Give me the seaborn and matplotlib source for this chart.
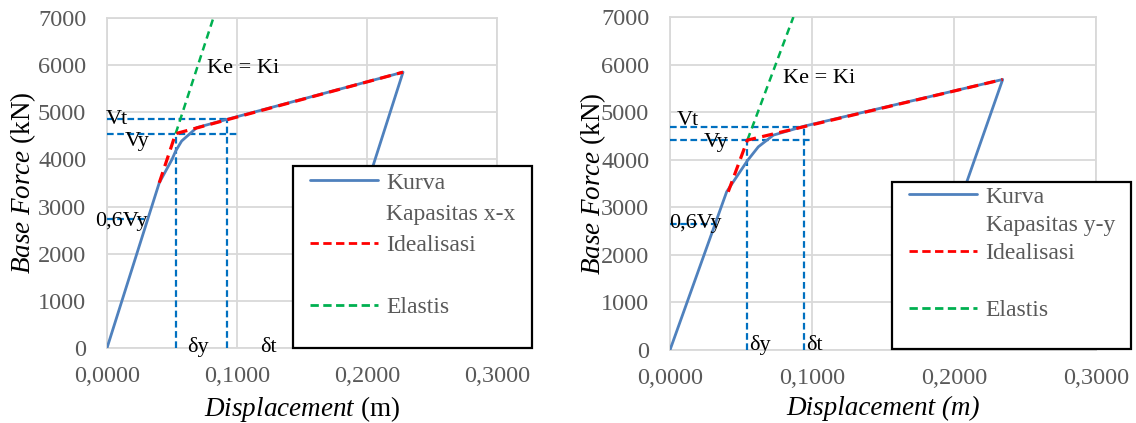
import matplotlib
matplotlib.use("Agg")
import matplotlib.pyplot as plt
import seaborn as sns
from matplotlib.lines import Line2D
from matplotlib.patches import Rectangle

# ---------------- data : direction x-x ----------------
cap_x_disp = [0.0, 0.0402, 0.0500, 0.0528, 0.0574, 0.0690, 0.0923, 0.2277, 0.1830]
cap_x_force = [0, 3504, 4000, 4177, 4390, 4674, 4850, 5851, 2000]
ideal_x_disp = [0.0402, 0.0528, 0.2277]
ideal_x_force = [3504, 4547, 5851]
elas_x_disp = [0.0528, 0.0818]
elas_x_force = [4547, 7000]
x_Vt, x_Vy = 4851, 4547
x_dy, x_dt = 0.0528, 0.0923
x_06Vy, x_06Vy_disp = 2728, 0.0313

# ---------------- data : direction y-y ----------------
cap_y_disp = [0.0, 0.0399, 0.0545, 0.0622, 0.0728, 0.0946, 0.2343, 0.1910]
cap_y_force = [0, 3326, 3980, 4271, 4517, 4706, 5687, 2000]
ideal_y_disp = [0.0410, 0.0545, 0.2343]
ideal_y_force = [3326, 4412, 5687]
elas_y_disp = [0.0545, 0.0869]
elas_y_force = [4412, 7000]
y_Vt, y_Vy = 4685, 4412
y_dy, y_dt = 0.0545, 0.0946
y_06Vy, y_06Vy_disp = 2647, 0.0329

# ---------------- ticks / labels ----------------
x_ticks = [0.0, 0.1, 0.2, 0.3]
x_tick_labels = ["0,0000", "0,1000", "0,2000", "0,3000"]
y_ticks = [0, 1000, 2000, 3000, 4000, 5000, 6000, 7000]
y_tick_labels = ["0", "1000", "2000", "3000", "4000", "5000", "6000", "7000"]
legend_labels_x = ["Kurva", "Kapasitas x-x", "Idealisasi", " ", "Elastis", " "]
legend_labels_y = ["Kurva", "Kapasitas y-y", "Idealisasi", " ", "Elastis", " "]

BLUE = "#4F81BD"
REF = "#0070C0"
RED = "#FF0000"
GREEN = "#00B050"
GRID = "#D9D9D9"
TICKC = "#595959"

sns.set_theme(style="white")
plt.rcParams['font.family'] = ['Liberation Serif', 'DejaVu Serif']
plt.rcParams['mathtext.fontset'] = 'custom'
plt.rcParams['mathtext.rm'] = 'Liberation Serif'
plt.rcParams['mathtext.it'] = 'Liberation Serif:italic'

fig = plt.figure(figsize=(11.36, 4.23), dpi=100)
axL = fig.add_axes([107/1136, 1-348/423, 390/1136, 330/423])
axR = fig.add_axes([670/1136, 1-350/423, 426/1136, 333/423])


def panel(ax, cap_d, cap_f, id_d, id_f, el_d, el_f, Vt, Vy, dy, dt, v06, d06,
          txt, xl_italic, ylab_x):
    ax.set_xlim(0, 0.3)
    ax.set_ylim(0, 7000)
    ax.set_xticks(x_ticks)
    ax.set_xticklabels(x_tick_labels)
    ax.set_yticks(y_ticks)
    ax.set_yticklabels(y_tick_labels)
    ax.tick_params(axis='both', length=0, labelsize=17.5, labelcolor=TICKC)
    ax.tick_params(axis='y', pad=15)
    ax.tick_params(axis='x', pad=13)
    ax.grid(True, color=GRID, lw=1.3)
    ax.set_axisbelow(True)
    for s in ax.spines.values():
        s.set_color(GRID)
        s.set_linewidth(1.3)

    ref_ls = (0, (3, 1.6))
    ax.plot([0, dt], [Vt, Vt], color=REF, lw=1.6, ls=ref_ls, zorder=3)
    ax.plot([0, 0.1], [Vy, Vy], color=REF, lw=1.6, ls=ref_ls, zorder=3)
    ax.plot([dy, dy], [0, Vy], color=REF, lw=1.6, ls=ref_ls, zorder=3)
    ax.plot([dt, dt], [0, Vt], color=REF, lw=1.6, ls=ref_ls, zorder=3)
    ax.plot([0, d06], [v06, v06], color=REF, lw=1.6, ls=ref_ls, zorder=3)

    sns.lineplot(x=el_d, y=el_f, ax=ax, sort=False, color=GREEN, lw=1.8,
                 linestyle=(0, (3, 2)), zorder=4)
    sns.lineplot(x=cap_d, y=cap_f, ax=ax, sort=False, color=BLUE, lw=2.0,
                 zorder=5)
    sns.lineplot(x=id_d, y=id_f, ax=ax, sort=False, color=RED, lw=2.3,
                 linestyle=(0, (3.5, 2)), zorder=6)

    for (s, x, y) in txt:
        ax.text(x, y, s, fontsize=16, color='black', ha='left', va='baseline',
                zorder=7, clip_on=False)

    ax.set_ylabel(r"$\mathit{Base\ Force}$ (kN)", fontsize=19.5, color='black')
    ax.yaxis.set_label_coords(ylab_x, 0.5)
    if xl_italic:
        ax.set_xlabel("Displacement (m)", fontsize=19.5, color='black', style='italic')
    else:
        ax.set_xlabel(r"$\mathit{Displacement}$ (m)", fontsize=19.5, color='black')
    ax.xaxis.labelpad = 5


panel(axL, cap_x_disp, cap_x_force, ideal_x_disp, ideal_x_force,
      elas_x_disp, elas_x_force, x_Vt, x_Vy, x_dy, x_dt, x_06Vy, x_06Vy_disp,
      [("Vt", -0.0008, 4745), ("Vy", 0.0138, 4283), ("Ke = Ki", 0.0769, 5830),
       ("0,6Vy", -0.0092, 2581), ("δy", 0.0615, -85), ("δt", 0.1177, -85)],
      False, -0.177)

panel(axR, cap_y_disp, cap_y_force, ideal_y_disp, ideal_y_force,
      elas_y_disp, elas_y_force, y_Vt, y_Vy, y_dy, y_dt, y_06Vy, y_06Vy_disp,
      [("Vt", 0.0051, 4730), ("Vy", 0.0235, 4274), ("Ke = Ki", 0.0798, 5606),
       ("0,6Vy", -0.0007, 2558), ("δy", 0.0557, 10), ("δt", 0.0962, 10)],
      True, -0.145)


def make_legend(labels, box, anchor, spacing):
    x0, y0, x1, y1 = box
    rect = Rectangle((x0/1136, 1-y1/423), (x1-x0)/1136, (y1-y0)/423,
                     transform=fig.transFigure, facecolor='white',
                     edgecolor='black', lw=1.6, zorder=4)
    fig.add_artist(rect)
    handles = [Line2D([], [], color=BLUE, lw=2.0),
               Line2D([], [], ls='none'),
               Line2D([], [], color=RED, lw=2.0, ls=(0, (3, 1.6))),
               Line2D([], [], ls='none'),
               Line2D([], [], color=GREEN, lw=2.0, ls=(0, (3, 1.6))),
               Line2D([], [], ls='none')]
    leg = fig.legend(handles, labels, loc='upper left',
                     bbox_to_anchor=(anchor[0]/1136, 1-anchor[1]/423),
                     bbox_transform=fig.transFigure, frameon=False,
                     fontsize=17, handlelength=2.9, handletextpad=0.34,
                     labelspacing=spacing, borderpad=0, borderaxespad=0)
    leg.set_zorder(5)
    for t in leg.get_texts():
        t.set_color(TICKC)
    return leg


make_legend(legend_labels_x, (293, 166, 532, 348), (310, 172), 0.41)
make_legend(legend_labels_y, (892, 182, 1131, 349), (909, 186), 0.29)

fig.savefig("out.png", dpi=100)
